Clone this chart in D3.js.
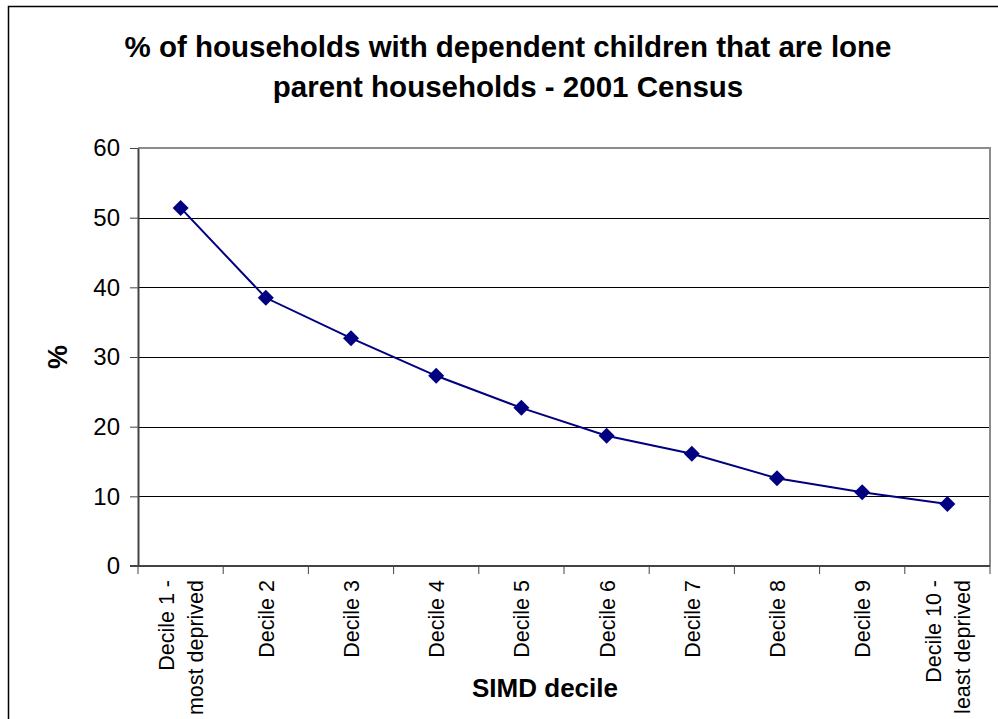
<!DOCTYPE html>
<html lang="en">
<head>
<meta charset="UTF-8">
<title>Lone parent households by SIMD decile</title>
<script src="https://d3js.org/d3.v7.min.js"></script>
<style>
    body { margin: 0; padding: 0; background: #fff; }
    svg { display: block; font-family: Arial, "Liberation Sans", sans-serif; }
</style>
</head>
<body>
<svg id="chart" width="998" height="719"></svg>
<script>
// values
const deciles = ["Decile 1 - most deprived", "Decile 2", "Decile 3", "Decile 4", "Decile 5",
                 "Decile 6", "Decile 7", "Decile 8", "Decile 9", "Decile 10 - least deprived"];
const labelLines = [["Decile 1 -", "most deprived"], ["Decile 2"], ["Decile 3"], ["Decile 4"], ["Decile 5"],
                    ["Decile 6"], ["Decile 7"], ["Decile 8"], ["Decile 9"], ["Decile 10 -", "least deprived"]];
const lonePct = [51.4, 38.5, 32.7, 27.3, 22.7, 18.7, 16.1, 12.6, 10.6, 8.9];
const yTicks = [0, 10, 20, 30, 40, 50, 60];

const svg = d3.select('#chart');
const margin = { left: 138, right: 990, top: 148, bottom: 566 };

// outer chart frame (runs off right/bottom edge)
svg.append('rect')
    .attr('x', 8.5).attr('y', 6.5)
    .attr('width', 1100).attr('height', 800)
    .attr('fill', 'none').attr('stroke', '#000').attr('stroke-width', 1.5);

const x = d3.scaleBand().domain(deciles).range([margin.left, margin.right]);
const y = d3.scaleLinear().domain([0, 60]).range([margin.bottom, margin.top]);

// gridlines
svg.append('g')
    .selectAll('line')
    .data(yTicks.filter(d => d > 0 && d < 60))
    .join('line')
    .attr('x1', margin.left).attr('x2', margin.right)
    .attr('y1', d => Math.round(y(d)) + 0.5).attr('y2', d => Math.round(y(d)) + 0.5)
    .attr('stroke', '#000').attr('stroke-width', 1);

// plot area border (top/right gray)
svg.append('path')
    .attr('d', `M${margin.left},${margin.top}H${margin.right}V${margin.bottom}`)
    .attr('fill', 'none').attr('stroke', '#8c8c8c').attr('stroke-width', 2);

// y axis
const yAxis = svg.append('g')
    .attr('transform', `translate(${margin.left},0)`)
    .call(d3.axisLeft(y).tickValues(yTicks).tickSize(8).tickPadding(10).tickSizeOuter(0));
yAxis.select('.domain').attr('stroke', '#444').attr('stroke-width', 2);
yAxis.selectAll('.tick line').attr('stroke', '#444');
yAxis.selectAll('.tick text').attr('font-size', 24).attr('fill', '#000')
    .attr('font-family', 'Arial, "Liberation Sans", sans-serif');

// x axis baseline and ticks at band edges
const xAxis = svg.append('g');
xAxis.append('line')
    .attr('x1', margin.left - 8).attr('x2', margin.right)
    .attr('y1', margin.bottom).attr('y2', margin.bottom)
    .attr('stroke', '#444').attr('stroke-width', 2);
xAxis.selectAll('line.tk')
    .data(deciles.concat(['end']))
    .join('line')
    .attr('class', 'tk')
    .attr('x1', d => d === 'end' ? margin.right : x(d))
    .attr('x2', d => d === 'end' ? margin.right : x(d))
    .attr('y1', margin.bottom).attr('y2', margin.bottom + 8)
    .attr('stroke', '#444').attr('stroke-width', 1);

// rotated category labels
const lab = xAxis.selectAll('text.cat')
    .data(deciles)
    .join('text')
    .attr('class', 'cat')
    .attr('transform', d => `translate(${x(d) + x.bandwidth() / 2},${margin.bottom + 14}) rotate(-90)`)
    .attr('text-anchor', 'end')
    .attr('font-size', 21.5)
    .attr('fill', '#000');
lab.each(function(d, i) {
    const lines = labelLines[i];
    const t = d3.select(this);
    lines.forEach((s, j) => {
        t.append('tspan')
            .attr('x', 0)
            .attr('y', (j - (lines.length - 1) / 2) * 29 + 8)
            .text(s);
    });
});

// line and markers
const line = d3.line()
    .x((d, i) => x(deciles[i]) + x.bandwidth() / 2)
    .y(d => y(d));
svg.append('path')
    .datum(lonePct)
    .attr('d', line)
    .attr('fill', 'none').attr('stroke', '#000080').attr('stroke-width', 2);

svg.append('g')
    .selectAll('path')
    .data(lonePct)
    .join('path')
    .attr('transform', (d, i) => `translate(${x(deciles[i]) + x.bandwidth() / 2},${y(d)})`)
    .attr('d', 'M0,-8L8,0L0,8L-8,0Z')
    .attr('fill', '#000080');

// titles
const title = svg.append('text')
    .attr('x', 508).attr('text-anchor', 'middle')
    .attr('font-size', 29.5).attr('font-weight', 'bold').attr('fill', '#000');
title.append('tspan').attr('x', 508).attr('y', 57).text('% of households with dependent children that are lone');
title.append('tspan').attr('x', 508).attr('y', 97).text('parent households - 2001 Census');

svg.append('text')
    .attr('transform', 'translate(67,357) rotate(-90)')
    .attr('text-anchor', 'middle')
    .attr('font-size', 27).attr('font-weight', 'bold')
    .text('%');

svg.append('text')
    .attr('x', 545).attr('y', 697)
    .attr('text-anchor', 'middle')
    .attr('font-size', 26).attr('font-weight', 'bold')
    .text('SIMD decile');
</script>
</body>
</html>
